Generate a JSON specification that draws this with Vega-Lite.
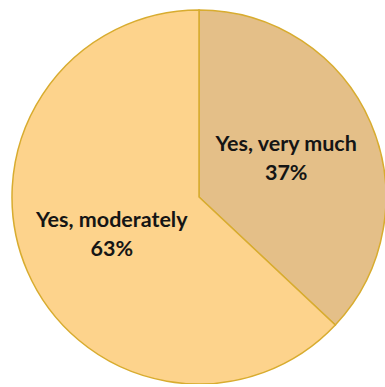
{
  "$schema": "https://vega.github.io/schema/vega-lite/v6.json",
  "width": 374,
  "height": 374,
  "padding": {"left": 12, "top": 10, "right": 0, "bottom": 0},
  "autosize": {"type": "none"},
  "background": "white",
  "view": {"stroke": null},
  "data": {
    "values": [
      {"category": "Yes, very much", "value": 37, "pct": "37%", "rank": 1},
      {"category": "Yes, moderately", "value": 63, "pct": "63%", "rank": 2}
    ]
  },
  "encoding": {
    "theta": {"field": "value", "type": "quantitative", "stack": true},
    "order": {"field": "rank", "type": "quantitative"}
  },
  "layer": [
    {
      "mark": {"type": "arc", "outerRadius": 187, "stroke": "#D8AC2F", "strokeWidth": 1.5},
      "encoding": {
        "color": {
          "field": "category",
          "type": "nominal",
          "scale": {"domain": ["Yes, very much", "Yes, moderately"], "range": ["#E4BF88", "#FDD38C"]},
          "legend": null
        }
      }
    },
    {
      "mark": {"type": "text", "radius": 95, "dy": -14, "font": "Lato", "fontWeight": "bold", "fontSize": 21.5, "color": "#151515", "baseline": "middle", "align": "center"},
      "encoding": {"text": {"field": "category", "type": "nominal"}}
    },
    {
      "mark": {"type": "text", "radius": 95, "dy": 15, "font": "Lato", "fontWeight": "bold", "fontSize": 21.5, "color": "#151515", "baseline": "middle", "align": "center"},
      "encoding": {"text": {"field": "pct", "type": "nominal"}}
    }
  ]
}
